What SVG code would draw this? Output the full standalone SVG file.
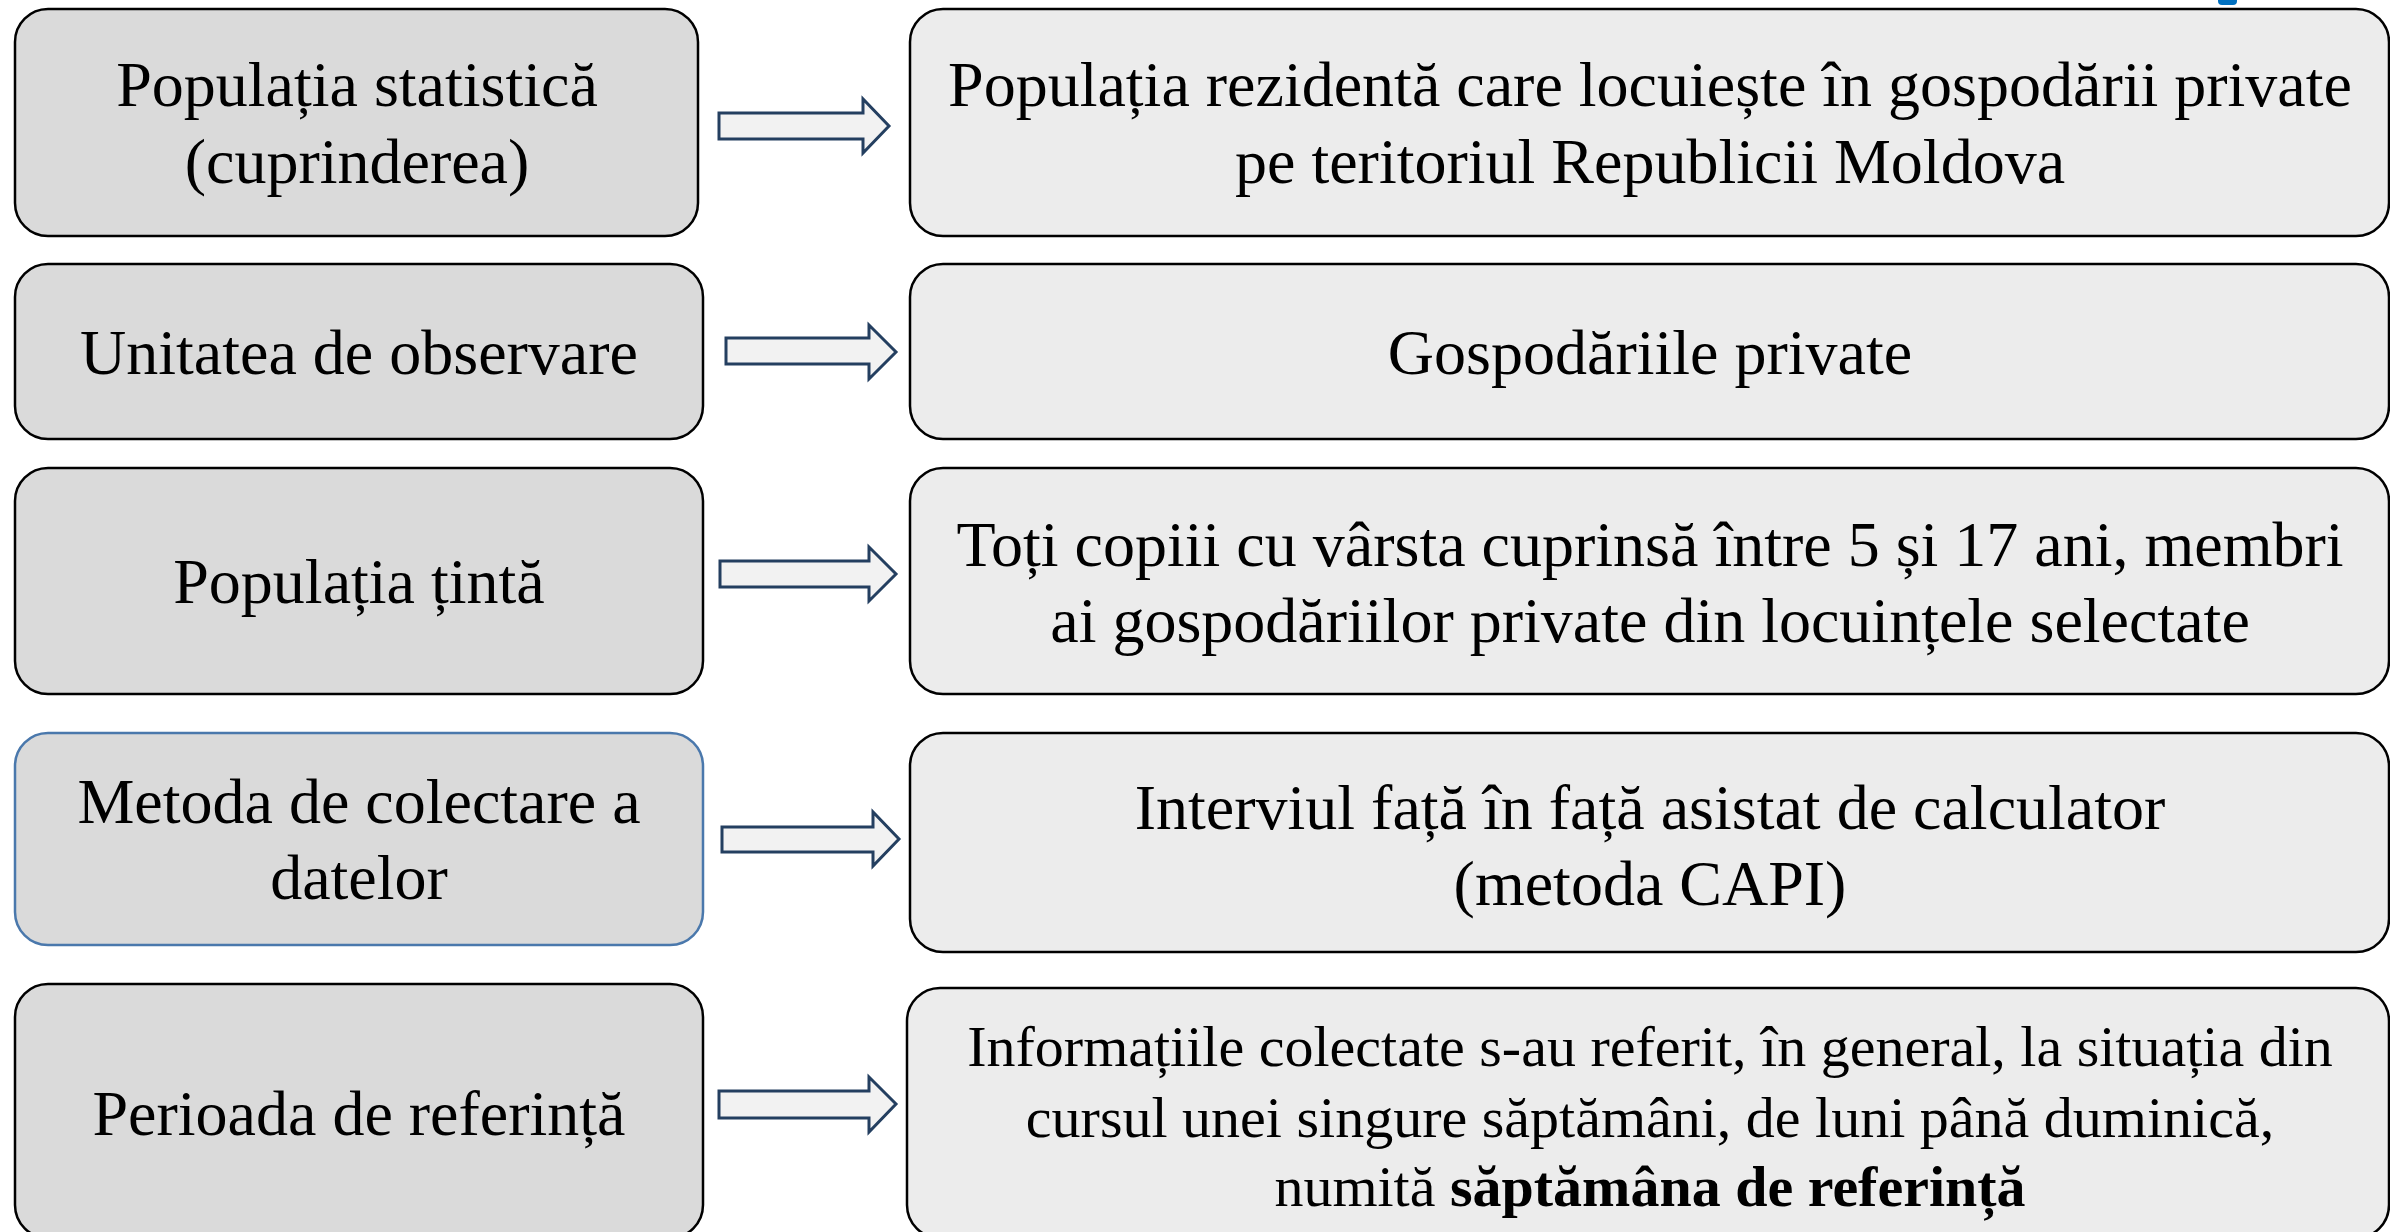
<svg xmlns="http://www.w3.org/2000/svg" width="2390" height="1232" viewBox="0 0 2390 1232">
<style>
.l{fill:#DADADA;stroke:#000;stroke-width:2.5}
.lb{fill:#DADADA;stroke:#4A78AC;stroke-width:2.5}
.r{fill:#ECECEC;stroke:#000;stroke-width:2.5}
.a{fill:#F2F2F2;stroke:#243F60;stroke-width:3;stroke-linejoin:miter}
text{font-family:"Liberation Serif","Times New Roman",serif;fill:#000;text-anchor:middle;font-size:64px}
.s{font-size:58px}
</style>
<rect width="2390" height="1232" fill="#fff"/>
<path d="M2218,0 L2218,1 Q2218,5 2222,5 L2233,5 Q2237,5 2237,1 L2237,0 Z" fill="#0070C0"/>
<g id="left1"><rect class="l" x="15" y="9" width="683" height="227" rx="33"/>
<text x="357" y="106">Populația statistică</text><text x="357" y="183">(cuprinderea)</text></g>
<g id="left2"><rect class="l" x="15" y="264" width="688" height="175" rx="33"/>
<text x="359" y="374">Unitatea de observare</text></g>
<g id="left3"><rect class="l" x="15" y="468" width="688" height="226" rx="33"/>
<text x="359" y="603">Populația țintă</text></g>
<g id="left4"><rect class="lb" x="15" y="733" width="688" height="212" rx="33"/>
<text x="359" y="823">Metoda de colectare a</text><text x="359" y="899">datelor</text></g>
<g id="left5"><rect class="l" x="15" y="984" width="688" height="254" rx="33"/>
<text x="359" y="1135">Perioada de referință</text></g>
<g id="right1"><rect class="r" x="910" y="9" width="1479" height="227" rx="33"/>
<text x="1650" y="106">Populația rezidentă care locuiește în gospodării private</text><text x="1650" y="183">pe teritoriul Republicii Moldova</text></g>
<g id="right2"><rect class="r" x="910" y="264" width="1479" height="175" rx="33"/>
<text x="1650" y="374">Gospodăriile private</text></g>
<g id="right3"><rect class="r" x="910" y="468" width="1479" height="226" rx="33"/>
<text x="1650" y="566">Toți copiii cu vârsta cuprinsă între 5 și 17 ani, membri</text><text x="1650" y="642">ai gospodăriilor private din locuințele selectate</text></g>
<g id="right4"><rect class="r" x="910" y="733" width="1479" height="219" rx="33"/>
<text x="1650" y="829">Interviul față în față asistat de calculator</text><text x="1650" y="905">(metoda CAPI)</text></g>
<g id="right5"><rect class="r" x="907" y="988" width="1482" height="250" rx="33"/>
<text class="s" x="1650" y="1066">Informațiile colectate s-au referit, în general, la situația din</text>
<text class="s" x="1650" y="1137">cursul unei singure săptămâni, de luni până duminică,</text>
<text class="s" x="1650" y="1206">numită <tspan font-weight="bold">săptămâna de referință</tspan></text></g>
<g id="connectors">
<path class="a" d="M719,113 L863,113 L863,99 L889,126 L863,153 L863,139 L719,139 Z"/>
<path class="a" d="M726,338 L869,338 L869,325 L896,352 L869,379 L869,364 L726,364 Z"/>
<path class="a" d="M720,561 L869,561 L869,547 L896,574 L869,601 L869,587 L720,587 Z"/>
<path class="a" d="M722,827 L873,827 L873,812 L899,839 L873,866 L873,852 L722,852 Z"/>
<path class="a" d="M719,1091 L869,1091 L869,1077 L896,1104 L869,1132 L869,1118 L719,1118 Z"/>
</g>
</svg>
